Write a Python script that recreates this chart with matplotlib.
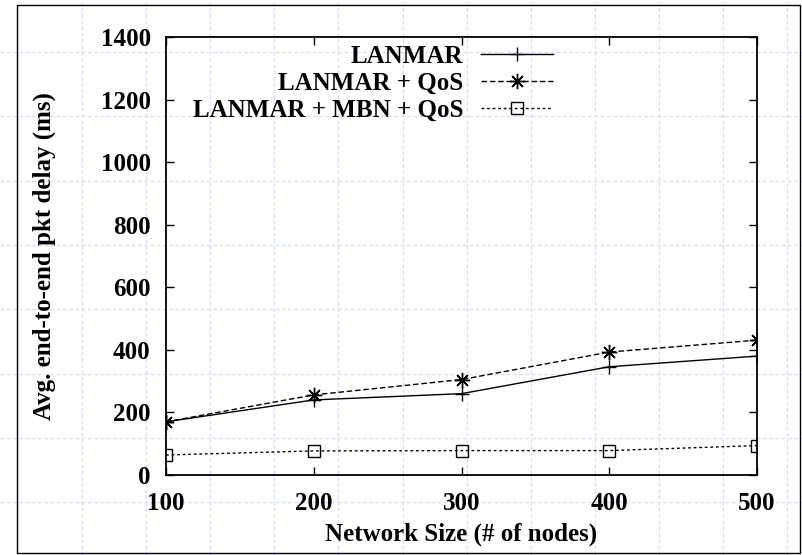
import matplotlib
matplotlib.use("Agg")
import matplotlib.pyplot as plt
from matplotlib.lines import Line2D
from matplotlib.patches import Rectangle

# data
sizes = [100, 200, 300, 400, 500]
lanmar = [170, 240, 260, 346, 380]
lanmar_qos = [170, 256, 305, 393, 431]
lanmar_mbn_qos = [64, 77, 78, 78, 94]

series_labels = ["LANMAR", "LANMAR + QoS", "LANMAR + MBN + QoS"]
x_ticks = [100, 200, 300, 400, 500]
y_ticks = [0, 200, 400, 600, 800, 1000, 1200, 1400]

plt.rcParams['font.family'] = ['Liberation Serif', 'DejaVu Serif']

W, H = 802, 555
fig = plt.figure(figsize=(W / 100, H / 100), dpi=100)

# light blue page grid behind everything
grid_col = "#d6dff7"
for k in range(12):
    gx = 82 + 64.1 * k
    fig.add_artist(Line2D([gx / W, gx / W], [0, 1], color=grid_col, lw=0.9,
                          ls=(0, (3, 2)), zorder=0))
for k in range(8):
    gy = 52 + 64.3 * k
    fig.add_artist(Line2D([0, 1], [1 - gy / H, 1 - gy / H], color=grid_col, lw=0.9,
                          ls=(0, (3, 2)), zorder=0))

# outer frame
fig.add_artist(Rectangle((17 / W, 1 - 553 / H), (800 - 17) / W, (553 - 5) / H,
                         fill=False, ec="black", lw=1.0, zorder=1))

# axes box: left 166, right 757, top 37, bottom 475 (pixels)
ax = fig.add_axes([166 / W, 1 - 475 / H, (757 - 166) / W, (475 - 37) / H])
ax.patch.set_alpha(0)

ax.plot(sizes, lanmar, color="black", lw=1.0, marker="+", ms=10, mew=1.0,
        label=series_labels[0])
ax.plot(sizes, lanmar_qos, color="black", lw=1.0, ls=(0, (4, 2)),
        marker=(8, 2, 0), ms=11, mew=1.0, label=series_labels[1])
ax.plot(sizes, lanmar_mbn_qos, color="black", lw=1.0, ls=(0, (2, 2)),
        marker="s", ms=8.5, mfc="none", mew=1.0, label=series_labels[2])

ax.set_xlim(100, 500)
ax.set_ylim(0, 1400)
ax.set_xticks(x_ticks)
ax.set_yticks(y_ticks)
ax.tick_params(direction="in", top=True, right=True, length=6, width=1,
               labelsize=18, pad=11)
ax.tick_params(axis="x", pad=12)
for lab in ax.get_xticklabels() + ax.get_yticklabels():
    lab.set_fontweight("bold")
for s in ax.spines.values():
    s.set_linewidth(1.3)

ax.set_xlabel("Network Size (# of nodes)", fontsize=18, fontweight="bold", labelpad=6)
ax.set_ylabel("Avg. end-to-end pkt delay (ms)", fontsize=18, fontweight="bold", labelpad=32)

leg = ax.legend(loc="upper right", bbox_to_anchor=(0.655, 0.982), frameon=False,
                markerfirst=False, handlelength=2.9, numpoints=1,
                prop={"size": 18, "weight": "bold"}, labelspacing=0.16,
                handletextpad=0.7, borderpad=0, borderaxespad=0)

fig.savefig("out.png", dpi=100)
